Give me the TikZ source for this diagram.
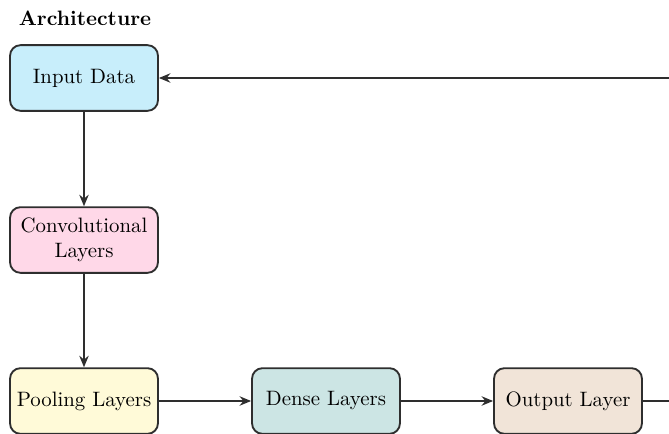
\documentclass[tikz,border=0pt]{standalone}
\usetikzlibrary{arrows.meta}
\definecolor{cIn}{HTML}{C8EEFB}
\definecolor{cConv}{HTML}{FFD8E8}
\definecolor{cPool}{HTML}{FFFAD8}
\definecolor{cDense}{HTML}{CCE5E4}
\definecolor{cOut}{HTML}{F1E4D8}
\definecolor{cEdge}{HTML}{2E2E2E}
\begin{document}
\begin{tikzpicture}[x=0.48pt,y=-0.48pt,
  blk/.style={draw=cEdge, line width=0.9pt, rounded corners=5pt, minimum width=71pt, minimum height=31.5pt, align=center, inner sep=2pt, font=\normalsize},
  conn/.style={draw=cEdge, line width=0.8pt, -{Stealth[length=5.5pt,width=4.5pt]}}]
\useasboundingbox (0,0) rectangle (669,434);
\clip (0,0) rectangle (669,434);
\node[font=\bfseries, anchor=center] (title) at (85,18) {Architecture};
\node[blk, fill=cIn] (in) at (84,78) {Input Data};
\node[blk, fill=cConv] (conv) at (84,240) {Convolutional\\Layers};
\node[blk, fill=cPool] (pool) at (84,401) {Pooling Layers};
\node[blk, fill=cDense] (dense) at (326,401) {Dense Layers};
\node[blk, fill=cOut] (out) at (568,401) {Output Layer};
\coordinate (c1) at (720,401);
\coordinate (c2) at (720,78);
\draw[conn] (in) -- (conv);
\draw[conn] (conv) -- (pool);
\draw[conn] (pool) -- (dense);
\draw[conn] (dense) -- (out);
\draw[conn] (out.east) -- (c1) -- (c2) -- (in.east);
\end{tikzpicture}
\end{document}
